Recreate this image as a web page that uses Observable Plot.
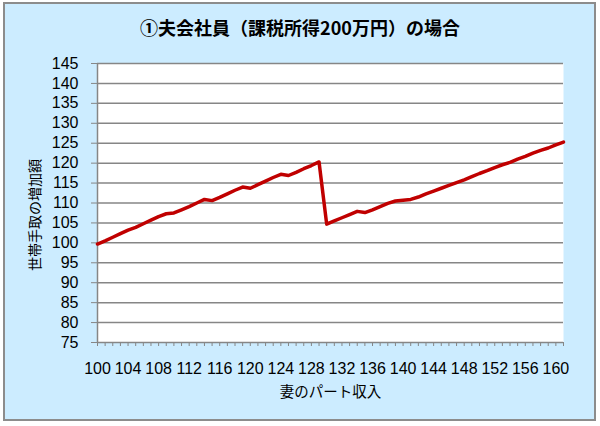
<!DOCTYPE html>
<html><head><meta charset="utf-8">
<script src="https://cdn.jsdelivr.net/npm/d3@7"></script>
<script src="https://cdn.jsdelivr.net/npm/@observablehq/plot@0.6"></script>
<style>
html,body{margin:0;padding:0;background:#fff;}
#chart{position:relative;width:600px;height:426px;overflow:hidden;}
#bg{position:absolute;left:3px;top:2px;width:589px;height:415px;background:#CCECFF;border:2px solid #8c8c8c;}
#title{position:absolute;left:0;top:14px;width:600px;text-align:center;font:bold 18px "Noto Sans CJK JP",sans-serif;color:#000;}
#plot{position:absolute;left:0;top:0;}
</style></head>
<body>
<div id="chart"><div id="bg"></div><div id="plot"></div><div id="title">①夫会社員（課税所得200万円）の場合</div></div>
<script>
const categories = [100,101,102,103,104,105,106,107,108,109,110,111,112,113,114,115,116,117,118,119,120,121,122,123,124,125,126,127,128,129,130,131,132,133,134,135,136,137,138,139,140,141,142,143,144,145,146,147,148,149,150,151,152,153,154,155,156,157,158,159,160,161];
const values = [99.7,100.5,101.4,102.3,103.2,103.9,104.8,105.7,106.6,107.3,107.5,108.3,109.1,110.0,110.9,110.6,111.4,112.3,113.2,114.0,113.7,114.6,115.5,116.4,117.2,116.9,117.7,118.6,119.4,120.3,104.7,105.5,106.3,107.1,107.9,107.6,108.3,109.1,109.9,110.5,110.7,110.9,111.5,112.3,113.0,113.7,114.4,115.1,115.8,116.6,117.4,118.1,118.9,119.6,120.2,121.0,121.7,122.5,123.2,123.8,124.6,125.3];
const xTickLabels = [100,104,108,112,116,120,124,128,132,136,140,144,148,152,156,160];
const yTicks = [75,80,85,90,95,100,105,110,115,120,125,130,135,140,145];
const xLabel = "妻のパート収入";
const yLabel = "世帯手取の増加額";

const data = categories.map((c, i) => ({x: c, y: values[i]}));
const grey = "#868686";
const plot = Plot.plot({
  width: 600, height: 426,
  marginLeft: 97, marginRight: 37, marginTop: 63, marginBottom: 84,
  style: {background: "transparent", fontFamily: "'Liberation Sans', Arial, sans-serif", fontSize: "16px", color: "#000"},
  x: {domain: [100, 161]},
  y: {domain: [75, 145]},
  marks: [
    Plot.frame({fill: "white"}),
    Plot.ruleY(yTicks, {stroke: grey, strokeWidth: 1.5}),
    Plot.ruleX([100], {stroke: grey, strokeWidth: 1.5}),
    Plot.axisY({ticks: yTicks, tickSize: 6, tickPadding: 13, stroke: grey, fill: "#000", label: null, fontSize: 16}),
    Plot.axisX({ticks: categories, tickSize: 4, tickPadding: 16, stroke: grey, fill: "#000", label: null, fontSize: 16,
      tickFormat: d => xTickLabels.includes(d) ? String(d) : ""}),
    Plot.line(data, {x: "x", y: "y", stroke: "#C00000", strokeWidth: 3.5, strokeLinejoin: "round"}),
    Plot.text([yLabel], {frameAnchor: "left", textAnchor: "middle", rotate: -90, dx: -62, dy: 12, fontSize: 14, fontFamily: "'Noto Sans CJK JP', sans-serif", fill: "#000"}),
    Plot.text([xLabel], {frameAnchor: "bottom", dy: 54, fontSize: 14.5, fontFamily: "'Noto Sans CJK JP', sans-serif", fill: "#000"})
  ]
});
document.getElementById("plot").appendChild(plot);
</script>
</body></html>
